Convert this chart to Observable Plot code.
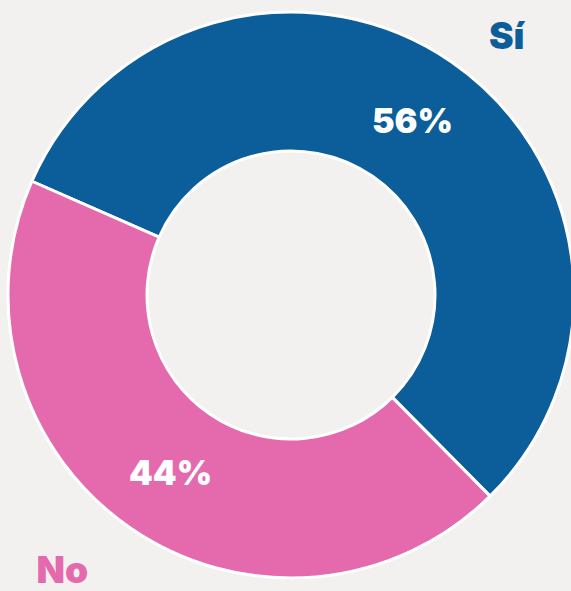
<!DOCTYPE html>
<html>
<head>
<meta charset="utf-8">
<script src="https://cdn.jsdelivr.net/npm/d3@7"></script>
<script src="https://cdn.jsdelivr.net/npm/@observablehq/plot@0.6"></script>
<style>
  html, body { margin: 0; padding: 0; background: #f2f1ef; overflow: hidden; }
  #chart svg { display: block; }
</style>
</head>
<body>
<div id="chart"></div>
<script>
const categories = ["Sí", "No"];
const values = [56, 44];
const labels = ["56%", "44%"];
const colors = ["#0b5e99", "#e46aad"];

const W = 571, H = 591;
const cx = 291, cy = 295, R = 283, innerFrac = 144 / 283;
const startDeg = -66.3;
const FONT = "Inter, 'Open Sans', 'Noto Sans', sans-serif";

const pie = d3.pie().sort(null).value(d => d.value)
  .startAngle(startDeg * Math.PI / 180)
  .endAngle((startDeg + 360) * Math.PI / 180);
const data = categories.map((c, i) => ({category: c, value: values[i], label: labels[i]}));
const arcs = pie(data);
const mid = (innerFrac + 1) / 2;
const labelData = arcs.map(a => {
  const ang = (a.startAngle + a.endAngle) / 2;
  return {label: a.data.label, x: mid * Math.sin(ang), y: mid * Math.cos(ang)};
});

function donutMark(index, scales) {
  const x0 = scales.x(0), y0 = scales.y(0);
  const r = Math.abs(scales.x(1) - scales.x(0));
  const arc = d3.arc().innerRadius(r * innerFrac).outerRadius(r);
  const g = d3.create("svg:g").attr("transform", `translate(${x0},${y0})`);
  g.selectAll("path").data(arcs).join("path")
    .attr("d", arc)
    .attr("fill", d => scales.color(d.data.category))
    .attr("stroke", "#ffffff")
    .attr("stroke-width", 3)
    .attr("stroke-linejoin", "round");
  return g.node();
}

const chart = Plot.plot({
  width: W,
  height: H,
  margin: 0,
  style: {background: "transparent", overflow: "visible"},
  x: {domain: [-1, 1], range: [cx - R, cx + R], axis: null},
  y: {domain: [-1, 1], range: [cy + R, cy - R], axis: null},
  color: {domain: categories, range: colors},
  marks: [
    donutMark,
    Plot.text(labelData, {
      x: "x", y: "y", text: "label", dy: 3,
      fill: "white", fontSize: 34, fontWeight: 900,
      fontFamily: FONT
    }),
    Plot.text([categories[0]], {
      frameAnchor: "top-right", dx: -47, dy: 22, lineAnchor: "top",
      text: d => d, fill: colors[0], fontSize: 37, fontWeight: 900,
      fontFamily: FONT
    }),
    Plot.text([categories[1]], {
      frameAnchor: "bottom-left", dx: 36, dy: -9, lineAnchor: "bottom",
      text: d => d, fill: colors[1], fontSize: 37, fontWeight: 900,
      fontFamily: FONT
    })
  ]
});
document.getElementById("chart").append(chart);
</script>
</body>
</html>
